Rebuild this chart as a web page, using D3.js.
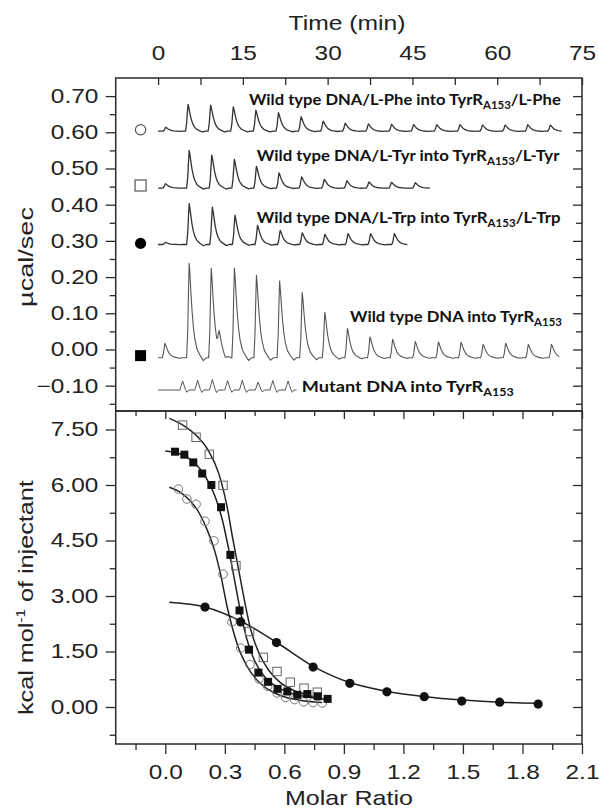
<!DOCTYPE html>
<html><head><meta charset="utf-8">
<script src="https://cdn.jsdelivr.net/npm/d3@7"></script>
<style>body{margin:0;background:#fff} svg{display:block}</style>
</head><body><svg id="c" width="599" height="809"></svg>
<script>
// ---------------- data ----------------
const timeTicks = [0, 15, 30, 45, 60, 75];
const timeMinor = [7.5, 22.5, 37.5, 52.5, 67.5];
const powerTicks = [-0.10, 0.00, 0.10, 0.20, 0.30, 0.40, 0.50, 0.60, 0.70];
const powerMinor = [-0.15, -0.05, 0.05, 0.15, 0.25, 0.35, 0.45, 0.55, 0.65];
const ratioTicks = [0.0, 0.3, 0.6, 0.9, 1.2, 1.5, 1.8, 2.1];
const ratioMinor = [-0.15, 0.15, 0.45, 0.75, 1.05, 1.35, 1.65, 1.95];
const heatTicks = [0.00, 1.50, 3.00, 4.50, 6.00, 7.50];
const heatMinor = [-0.75, 0.75, 2.25, 3.75, 5.25, 6.75];

// raw thermograms: baseline, injection times (min), peak tops (µcal/sec), end time
const pheBase = 0.603, pheEnd = 71.4;
const pheTimes = [1.35, 5.3, 9.3, 13.3, 17.3, 21.3, 25.3, 29.2, 33.1, 37.2, 41.3, 45.2, 49.3, 53.4, 57.4, 61.4, 65.4, 69.4];
const pheTops  = [0.614, 0.677, 0.675, 0.670, 0.661, 0.654, 0.643, 0.631, 0.625, 0.623, 0.622, 0.621, 0.621, 0.621, 0.620, 0.620, 0.621, 0.620];

const tyrBase = 0.446, tyrEnd = 48.1;
const tyrTimes = [1.3, 5.5, 9.5, 13.5, 17.4, 21.4, 25.4, 29.4, 33.4, 37.3, 41.3, 45.5];
const tyrTops  = [0.458, 0.550, 0.537, 0.525, 0.506, 0.488, 0.477, 0.470, 0.466, 0.463, 0.462, 0.461];

const trpBase = 0.290, trpEnd = 44.1;
const trpTimes = [1.3, 5.5, 9.6, 13.6, 17.6, 21.6, 25.5, 29.5, 33.6, 37.6, 41.8];
const trpTops  = [0.296, 0.403, 0.393, 0.371, 0.343, 0.329, 0.322, 0.318, 0.320, 0.320, 0.320];

const wtBase = -0.023, wtEnd = 71.0;
const wtTimes = [1.2, 5.5, 9.4, 10.8, 13.5, 17.4, 21.5, 25.5, 29.5, 33.5, 37.5, 41.5, 45.5, 49.6, 53.6, 57.5, 61.5, 65.5, 69.6];
const wtTops  = [0.017, 0.238, 0.224, 0.030, 0.226, 0.205, 0.189, 0.157, 0.103, 0.058, 0.035, 0.028, 0.022, 0.021, 0.020, 0.014, 0.017, 0.014, 0.014];

const mutBase = -0.112, mutEnd = 24.5;
const mutTimes = [4.35, 7.0, 9.6, 12.3, 14.9, 17.7, 20.3, 23.0];
const mutTops  = [-0.087, -0.085, -0.083, -0.086, -0.085, -0.090, -0.086, -0.087];

// legend symbols in the raw-data panel
const symbolTime = -3.1;
const symbolLevels = [0.607, 0.453, 0.293, -0.017];

// integrated heats (molar ratio, kcal/mol)
const pheRatio = [0.066, 0.109, 0.155, 0.200, 0.245, 0.291, 0.336, 0.380, 0.427, 0.472, 0.516, 0.563, 0.606, 0.652, 0.697, 0.744, 0.791];
const pheHeat  = [5.89, 5.62, 5.48, 5.02, 4.49, 3.59, 2.30, 1.59, 1.15, 0.76, 0.56, 0.38, 0.26, 0.20, 0.14, 0.12, 0.11];
const tyrRatio = [0.087, 0.155, 0.222, 0.291, 0.356, 0.425, 0.494, 0.563, 0.630, 0.699, 0.766];
const tyrHeat  = [7.62, 7.29, 6.83, 5.99, 3.82, 2.04, 1.34, 0.96, 0.67, 0.51, 0.40];
const trpRatio = [0.200, 0.380, 0.560, 0.745, 0.930, 1.117, 1.305, 1.494, 1.685, 1.879];
const trpHeat  = [2.70, 2.30, 1.74, 1.08, 0.64, 0.41, 0.28, 0.16, 0.13, 0.08];
const wtRatio  = [0.049, 0.096, 0.141, 0.186, 0.232, 0.281, 0.328, 0.374, 0.422, 0.469, 0.518, 0.566, 0.615, 0.665, 0.716, 0.768, 0.818];
const wtHeat   = [6.90, 6.82, 6.61, 6.31, 6.00, 5.40, 4.11, 2.61, 1.55, 0.93, 0.68, 0.49, 0.42, 0.33, 0.35, 0.29, 0.22];

// fitted curves
const pheFitRatio = [0.02, 0.07, 0.12, 0.17, 0.21, 0.25, 0.28, 0.31, 0.34, 0.37, 0.41, 0.46, 0.52, 0.59, 0.67, 0.79];
const pheFitHeat  = [5.94, 5.82, 5.60, 5.25, 4.80, 4.20, 3.55, 2.75, 2.10, 1.58, 1.12, 0.74, 0.47, 0.29, 0.19, 0.12];
const tyrFitRatio = [0.02, 0.10, 0.16, 0.22, 0.27, 0.31, 0.34, 0.37, 0.40, 0.43, 0.47, 0.52, 0.58, 0.65, 0.72, 0.80];
const tyrFitHeat  = [7.80, 7.58, 7.32, 6.90, 6.30, 5.45, 4.55, 3.70, 2.85, 2.10, 1.48, 1.00, 0.66, 0.44, 0.31, 0.22];
const trpFitRatio = [0.02, 0.20, 0.38, 0.56, 0.745, 0.93, 1.12, 1.31, 1.50, 1.69, 1.88];
const trpFitHeat  = [2.83, 2.70, 2.32, 1.75, 1.10, 0.66, 0.42, 0.28, 0.19, 0.13, 0.10];
const wtFitRatio  = [0.00, 0.05, 0.10, 0.15, 0.20, 0.25, 0.29, 0.32, 0.35, 0.38, 0.41, 0.45, 0.50, 0.56, 0.63, 0.72, 0.82];
const wtFitHeat   = [6.92, 6.88, 6.78, 6.58, 6.25, 5.70, 5.00, 4.25, 3.40, 2.55, 1.85, 1.25, 0.82, 0.55, 0.38, 0.27, 0.20];

// labels
const traceLabels = ["Wild type DNA/L-Phe into TyrR", "Wild type DNA/L-Tyr into TyrR", "Wild type DNA/L-Trp into TyrR", "Wild type DNA into TyrR", "Mutant DNA into TyrR"];
const traceLabelSub = "A153";
const traceLabelTail = ["/L-Phe", "/L-Tyr", "/L-Trp", "", ""];

// ---------------- drawing ----------------
const svg = d3.select("#c");
const FONT = "'Liberation Sans', Arial, sans-serif";
const SX = 1.22;
const INK = "#2a2a2a";

const L = 115.7, R = 582, T1 = 78, M = 411, B2 = 744;
const xTime = d3.scaleLinear([-7.5, 75], [L, R]);
const yPow  = d3.scaleLinear([-0.17, 0.75], [M, T1]);
const xRat  = d3.scaleLinear([-0.25, 2.1], [L, R]);
const yHeat = d3.scaleLinear([-1, 8], [B2, M]);

// peak templates (shape of one injection, relative to its height)
const mainTpl = {rise: [-0.45, -0.25, -0.1], riseF: [0, 0.3, 0.75],
                 dt: [0.12, 0.3, 0.5, 0.75, 1.0, 1.4, 1.9, 2.5, 3.0], f: [0.9, 0.7, 0.5, 0.32, 0.2, 0.09, 0.03, -0.03, 0]};
const mutTpl  = {rise: [-0.5, -0.25], riseF: [0, 0.5],
                 dt: [0.25, 0.5, 0.75, 1.1], f: [0.5, 0.05, -0.25, 0]};

function interp(xs, fs, d) {
  if (d <= xs[0]) return fs[0];
  if (d >= xs[xs.length - 1]) return fs[fs.length - 1];
  for (let i = 1; i < xs.length; i++) {
    if (d <= xs[i]) { const u = (d - xs[i-1]) / (xs[i] - xs[i-1]); return fs[i-1] + u * (fs[i] - fs[i-1]); }
  }
  return 0;
}
function shapeAt(d, tpl) {
  if (d < tpl.rise[0]) return 0;
  if (d < 0) return interp([...tpl.rise, 0], [...tpl.riseF, 1], d);
  return interp([0, ...tpl.dt], [1, ...tpl.f], d);
}
function traceValues(base, times, tops, end, tpl) {
  let ts = [0, end];
  times.forEach(tp => { tpl.rise.forEach(d => ts.push(tp + d)); ts.push(tp); tpl.dt.forEach(d => ts.push(tp + d)); });
  ts = ts.filter(t => t >= 0 && t <= end).sort((a, b) => a - b).filter((t, i, a) => i === 0 || t - a[i-1] > 1e-6);
  return ts.map(t => {
    let v = base;
    times.forEach((tp, i) => { v += (tops[i] - base) * shapeAt(t - tp, tpl); });
    return [t, v];
  });
}

const rawLine = d3.line().x(d => xTime(d[0])).y(d => yPow(d[1]));
const traces = [
  {v: traceValues(pheBase, pheTimes, pheTops, pheEnd, mainTpl), c: "#333", w: 1.3},
  {v: traceValues(tyrBase, tyrTimes, tyrTops, tyrEnd, mainTpl), c: "#333", w: 1.3},
  {v: traceValues(trpBase, trpTimes, trpTops, trpEnd, mainTpl), c: "#333", w: 1.3},
  {v: traceValues(wtBase, wtTimes, wtTops, wtEnd, mainTpl), c: "#555", w: 1.1},
  {v: traceValues(mutBase, mutTimes, mutTops, mutEnd, mutTpl), c: "#555", w: 1.0}
];
svg.append("g").selectAll("path").data(traces).join("path")
  .attr("d", d => rawLine(d.v)).attr("fill", "none")
  .attr("stroke", d => d.c).attr("stroke-width", d => d.w).attr("stroke-linejoin", "round");

// symbols in top panel
const sym = svg.append("g");
sym.append("circle").attr("cx", xTime(symbolTime)).attr("cy", yPow(symbolLevels[0])).attr("r", 5.2)
  .attr("fill", "#fff").attr("stroke", "#555").attr("stroke-width", 1.2);
sym.append("rect").attr("x", xTime(symbolTime) - 5.5).attr("y", yPow(symbolLevels[1]) - 5.5).attr("width", 11).attr("height", 11)
  .attr("fill", "#fff").attr("stroke", "#555").attr("stroke-width", 1.2);
sym.append("circle").attr("cx", xTime(symbolTime)).attr("cy", yPow(symbolLevels[2])).attr("r", 5.6).attr("fill", "#000");
sym.append("rect").attr("x", xTime(symbolTime) - 5.5).attr("y", yPow(symbolLevels[3]) - 5.5).attr("width", 11).attr("height", 11).attr("fill", "#000");

// trace labels
const labelPos = [[249, 105], [256.7, 161], [256.7, 222.5], [350, 321.7], [301.7, 391.7]];
const labelWidth = [312, 303, 304, 212, 212];
traceLabels.forEach((txt, i) => {
  const t = svg.append("text").attr("font-family", "Lato, 'Open Sans', sans-serif").attr("font-weight", "bold")
    .attr("font-size", 16).attr("fill", "#111");
  t.append("tspan").text(txt);
  t.append("tspan").attr("font-size", 11).attr("dy", 4).text(traceLabelSub);
  if (traceLabelTail[i]) t.append("tspan").attr("dy", -4).text(traceLabelTail[i]);
  const w = t.node().getComputedTextLength();
  t.attr("transform", `translate(${labelPos[i][0]},${labelPos[i][1]}) scale(${labelWidth[i] / w},1)`);
});

// bottom panel curves
const fitLine = d3.line().x(d => xRat(d[0])).y(d => yHeat(d[1])).curve(d3.curveMonotoneX);
const fits = [[pheFitRatio, pheFitHeat], [tyrFitRatio, tyrFitHeat], [trpFitRatio, trpFitHeat], [wtFitRatio, wtFitHeat]];
svg.append("g").selectAll("path").data(fits).join("path")
  .attr("d", d => fitLine(d[0].map((r, i) => [r, d[1][i]])))
  .attr("fill", "none").attr("stroke", "#222").attr("stroke-width", 1.5);

const pts = svg.append("g");
pts.selectAll(".oc").data(pheRatio.map((r, i) => [r, pheHeat[i]])).join("circle")
  .attr("cx", d => xRat(d[0])).attr("cy", d => yHeat(d[1])).attr("r", 4.3)
  .attr("fill", "none").attr("stroke", "#777").attr("stroke-width", 1);
pts.selectAll(".os").data(tyrRatio.map((r, i) => [r, tyrHeat[i]])).join("rect")
  .attr("x", d => xRat(d[0]) - 4.2).attr("y", d => yHeat(d[1]) - 4.2).attr("width", 8.4).attr("height", 8.4)
  .attr("fill", "none").attr("stroke", "#666").attr("stroke-width", 1);
pts.selectAll(".fc").data(trpRatio.map((r, i) => [r, trpHeat[i]])).join("circle")
  .attr("cx", d => xRat(d[0])).attr("cy", d => yHeat(d[1])).attr("r", 4.6).attr("fill", "#111");
pts.selectAll(".fs").data(wtRatio.map((r, i) => [r, wtHeat[i]])).join("rect")
  .attr("x", d => xRat(d[0]) - 4).attr("y", d => yHeat(d[1]) - 4).attr("width", 8).attr("height", 8).attr("fill", "#111");

// frames
svg.append("rect").attr("x", L).attr("y", T1).attr("width", R - L).attr("height", M - T1)
  .attr("fill", "none").attr("stroke", INK).attr("stroke-width", 1.5);
svg.append("rect").attr("x", L).attr("y", M).attr("width", R - L).attr("height", B2 - M)
  .attr("fill", "none").attr("stroke", INK).attr("stroke-width", 1.5);

// axes
function styleAxis(g, anchorX) {
  g.select(".domain").remove();
  g.selectAll(".tick line").attr("stroke", INK).attr("stroke-width", 1.3);
  const tx = g.selectAll(".tick text").attr("font-family", FONT).attr("font-size", 20).attr("fill", "#222");
  if (anchorX !== undefined) tx.attr("x", anchorX / SX);
  tx.attr("transform", `scale(${SX},1)`);
}
function addAxis(axis, tx, ty, anchorX) {
  const g = svg.append("g").attr("transform", `translate(${tx},${ty})`).call(axis);
  styleAxis(g, anchorX);
  return g;
}
// top panel
addAxis(d3.axisLeft(yPow).tickValues(powerTicks).tickSize(10).tickPadding(7.4).tickFormat(d3.format(".2f")), L, 0, -17.4);
addAxis(d3.axisLeft(yPow).tickValues(powerMinor).tickSize(6).tickFormat(""), L, 0);
addAxis(d3.axisRight(yPow).tickValues(powerTicks).tickSize(-9).tickFormat(""), R, 0);
addAxis(d3.axisRight(yPow).tickValues(powerMinor).tickSize(-6).tickFormat(""), R, 0);
addAxis(d3.axisTop(xTime).tickValues(timeTicks).tickSize(-7).tickPadding(18).tickFormat(d3.format("d")), 0, T1);
addAxis(d3.axisTop(xTime).tickValues(timeMinor).tickSize(-7).tickFormat(""), 0, T1);
// bottom panel
addAxis(d3.axisLeft(yHeat).tickValues(heatTicks).tickSize(10).tickPadding(7.4).tickFormat(d3.format(".2f")), L, 0, -17.4);
addAxis(d3.axisLeft(yHeat).tickValues(heatMinor).tickSize(6).tickFormat(""), L, 0);
addAxis(d3.axisRight(yHeat).tickValues(heatTicks).tickSize(-9).tickFormat(""), R, 0);
addAxis(d3.axisRight(yHeat).tickValues(heatMinor).tickSize(-6).tickFormat(""), R, 0);
addAxis(d3.axisBottom(xRat).tickValues(ratioTicks).tickSize(10).tickPadding(10.8).tickFormat(d3.format(".1f")), 0, B2);
addAxis(d3.axisBottom(xRat).tickValues(ratioMinor).tickSize(6).tickFormat(""), 0, B2);
addAxis(d3.axisTop(xRat).tickValues(ratioTicks).tickSize(-8).tickFormat(""), 0, M);
addAxis(d3.axisTop(xRat).tickValues(ratioMinor).tickSize(-5).tickFormat(""), 0, M);

// axis titles
function title(parts, x, y, width, rotate) {
  const t = svg.append("text").attr("font-family", FONT).attr("font-size", 20).attr("fill", "#222");
  parts.forEach(p => {
    const s = t.append("tspan").text(p.t);
    if (p.fs) s.attr("font-size", p.fs);
    if (p.dy) s.attr("dy", p.dy);
  });
  const w = t.node().getComputedTextLength();
  const k = width / w;
  t.attr("x", -w / 2);
  t.attr("transform", `translate(${x},${y})` + (rotate ? " rotate(-90)" : "") + ` scale(${k},1)`);
}
title([{t: "Time (min)"}], 347, 29.5, 117, false);
title([{t: "Molar Ratio"}], 349, 805, 128, false);
title([{t: "µcal/sec"}], 33, 257, 100, true);
title([{t: "kcal mol"}, {t: "-1", fs: 12, dy: -8}, {t: " of injectant", dy: 8}], 33, 597.5, 235, true);
</script></body></html>
